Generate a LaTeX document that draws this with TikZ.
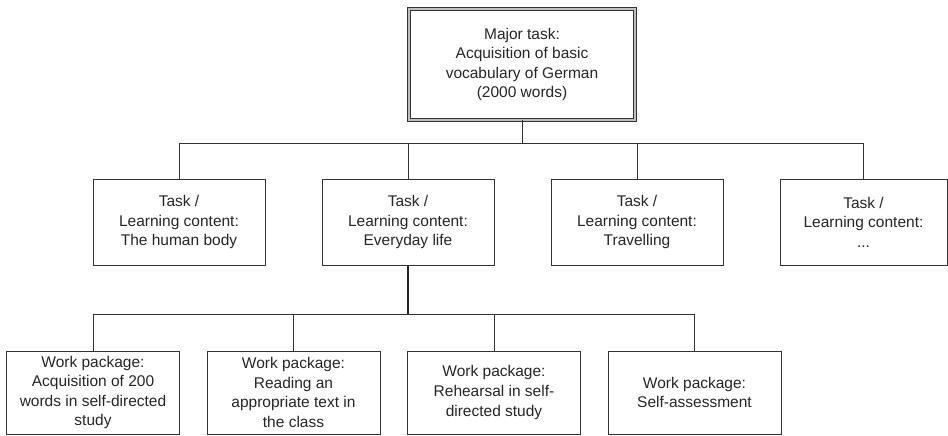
\documentclass[tikz,border=0pt]{standalone}
\usepackage{fontspec}
\setmainfont{Liberation Sans}
\begin{document}
\begin{tikzpicture}[x=1pt,y=-1pt,
  every node/.style={font=\fontsize{15.5}{19.6}\selectfont, text=black!85, align=center, inner sep=0pt},
  box/.style={draw=black!80, line width=1pt, fill=white},
  taskbox/.style={box, minimum width=172pt, minimum height=86pt},
  wpbox/.style={box, minimum width=173pt, minimum height=83pt},
  topbox/.style={draw=black!80, line width=0.9pt, double=black!25, double distance=2.3pt, minimum width=226pt, minimum height=111pt},
  conn/.style={draw=black!80, line width=1pt},
  thickconn/.style={draw=black!85, line width=1.8pt}
]
\useasboundingbox (0,0) rectangle (948,436);
\fill[white] (0,0) rectangle (948,436);

\node[topbox] (top) at (522,64.5) {Major task:\\Acquisition of basic\\vocabulary of German\\(2000 words)};

\node[taskbox] (t1) at (179,222) {Task /\\Learning content:\\The human body};
\node[taskbox] (t2) at (408,222) {Task /\\Learning content:\\Everyday life};
\node[taskbox] (t3) at (637,222) {Task /\\Learning content:\\Travelling};
\node[taskbox, minimum width=167pt] (t4) at (863.5,222) {Task /\\Learning content:\\...};

\node[wpbox] (w1) at (93,392.5) {Work package:\\Acquisition of 200\\words in self-directed\\study};
\node[wpbox] (w2) at (293.5,392.5) {Work package:\\Reading an\\appropriate text in\\the class};
\node[wpbox] (w3) at (494,392.5) {Work package:\\Rehearsal in self-\\directed study};
\node[wpbox] (w4) at (694.5,392.5) {Work package:\\Self-assessment};

\coordinate (b1) at (522,143);
\coordinate (b2) at (408,314);

\draw[conn] (top.south) -- (top.south |- b1);
\draw[conn] (t1.north) -- (t1.north |- b1) -| (t4.north);
\draw[conn] (t2.north) -- (t2.north |- b1);
\draw[conn] (t3.north) -- (t3.north |- b1);

\draw[conn] (w1.north) -- (w1.north |- b2) -| (w4.north);
\draw[conn] (w2.north) -- (w2.north |- b2);
\draw[conn] (w3.north) -- (w3.north |- b2);
\draw[thickconn] (t2.south) -- (b2);
\end{tikzpicture}
\end{document}
